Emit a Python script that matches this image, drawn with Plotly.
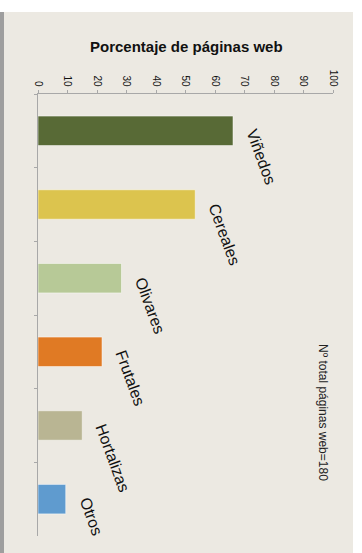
import plotly.graph_objects as go

categories = ["Viñedos", "Cereales", "Olivares", "Frutales", "Hortalizas", "Otros"]
values = [66.1, 53.3, 28.3, 21.7, 15.0, 9.4]
colors = ["#586A36", "#DCC44E", "#B7C997", "#E07A24", "#B9B593", "#5F9BCF"]
tick_vals = [0, 10, 20, 30, 40, 50, 60, 70, 80, 90, 100]
title_text = "Porcentaje de páginas web"
note_text = "Nº total páginas web=180"

W, H = 362, 553
def px(x):
    return x / W
def py(y):
    return 1 - y / H

fig = go.Figure()
fig.add_trace(go.Bar(
    x=values, y=categories, orientation="h",
    marker=dict(color=colors, line=dict(color="rgba(255,255,255,0.5)", width=1)),
    width=0.4, hoverinfo="skip",
))

annotations = []
for c, v in zip(categories, values):
    annotations.append(dict(
        x=v, y=c, xref="x", yref="y", text=c, showarrow=False,
        textangle=70, xanchor="left", yanchor="top", xshift=8, yshift=6,
        font=dict(family="Liberation Sans, Arial", size=16, color="#111111"),
    ))
annotations.append(dict(
    x=px(186), y=py(46), xref="paper", yref="paper", text="<b>" + title_text + "</b>",
    showarrow=False, xanchor="center", yanchor="middle",
    font=dict(family="Liberation Sans, Arial", size=15, color="#111111"),
))
annotations.append(dict(
    x=px(323), y=py(412), xref="paper", yref="paper", text=note_text,
    showarrow=False, xanchor="center", yanchor="middle", textangle=90,
    font=dict(family="Liberation Sans, Arial", size=12, color="#222222"),
))

shapes = [
    dict(type="rect", xref="paper", yref="paper", x0=px(4), x1=px(353), y0=0, y1=py(12),
         fillcolor="#ECE9E2", line=dict(width=0), layer="below"),
    dict(type="rect", xref="paper", yref="paper", x0=0, x1=px(4), y0=0, y1=py(12),
         fillcolor="#9E9E9E", line=dict(width=0), layer="below"),
]

fig.update_layout(
    width=W, height=H,
    margin=dict(l=0, r=0, t=0, b=0, pad=0, autoexpand=False),
    paper_bgcolor="white",
    plot_bgcolor="rgba(0,0,0,0)",
    showlegend=False,
    annotations=annotations,
    shapes=shapes,
    xaxis=dict(
        domain=[px(38), px(333)], range=[0, 100], autorange=False, side="top", automargin=False,
        tickvals=tick_vals, ticktext=[str(t) for t in tick_vals], tickangle=90,
        showline=True, linecolor="#A8A8A8", linewidth=1,
        ticks="outside", ticklen=3, tickcolor="#A8A8A8",
        showgrid=False, zeroline=False,
        tickfont=dict(family="Liberation Sans, Arial", size=10, color="#111111"),
    ),
    yaxis=dict(
        domain=[py(536), py(94)], range=[len(categories) - 0.5, -0.5], autorange=False,
        automargin=False,
        showline=True, linecolor="#A8A8A8", linewidth=1,
        ticks="outside", ticklen=3, tickcolor="#A8A8A8", tickson="boundaries",
        showticklabels=False, showgrid=False, zeroline=False,
    ),
)

fig.write_html("out.html", config={"displayModeBar": False},
               post_script="document.body.style.margin='0';")
